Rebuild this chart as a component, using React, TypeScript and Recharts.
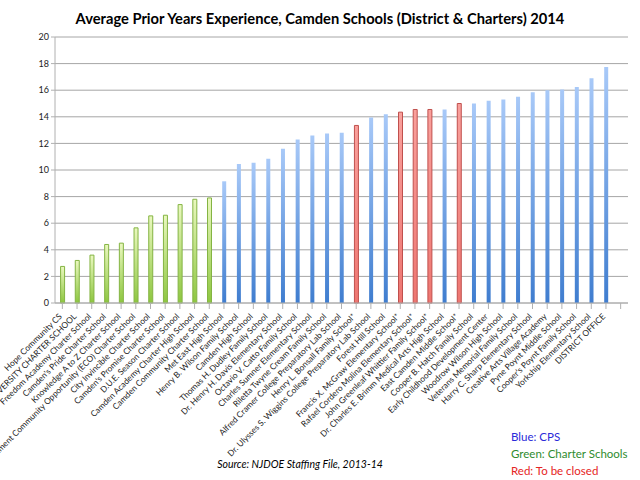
import { Bar, BarChart, CartesianGrid, Cell, XAxis, YAxis } from 'recharts'

const SCHOOLS = [
  'Hope Community CS',
  'UNIVERSITY CHARTER SCHOOL',
  'Freedom Academy Charter School',
  "Camden's Pride Charter School",
  'Knowledge A to Z Charter School',
  'Environment Community Opportunity (ECO) Charter School',
  'City Invincible Charter School',
  "Camden's Promise Charter School",
  'D.U.E. Season Charter School',
  'Camden Academy Charter High School',
  'Camden Community Charter School',
  'Met East High School',
  'Henry B. Wilson Family School',
  'Camden High School',
  'Thomas H. Dudley Family School',
  'Dr. Henry H. Davis Elementary School',
  'Octavio V. Catto Family School',
  'Charles Sumner Elementary School',
  'Riletta Twyne Cream Family School',
  'Alfred Cramer College Preparatory Lab School',
  'Henry L. Bonsall Family School*',
  'Dr. Ulysses S. Wiggins College Preparatory Lab School',
  'Forest Hill School',
  'Francis X. McGraw Elementary School*',
  'Rafael Cordero Molina Elementary School*',
  'John Greenleaf Whittier Family School*',
  'Dr. Charles E. Brimm Medical Arts High School',
  'East Camden Middle School*',
  'Cooper B. Hatch Family School',
  'Early Childhood Development Center',
  'Woodrow Wilson High School',
  'Veterans Memorial Family School',
  'Harry C. Sharp Elementary School',
  'Creative Arts Village Academy',
  'Pyne Poynt Middle School',
  "Cooper's Poynt Family School",
  'Yorkship Elementary School',
  'DISTRICT OFFICE',
  '',
]

const YEARS = [
  2.75, 3.2, 3.6, 4.4, 4.5, 5.65, 6.55, 6.6, 7.4, 7.8, 7.9,
  9.15, 10.45, 10.55, 10.85, 11.6, 12.3, 12.6, 12.75, 12.8,
  13.35, 13.95, 14.2, 14.35, 14.55, 14.55, 14.55, 15.0, 15.0,
  15.2, 15.3, 15.5, 15.85, 16.0, 16.05, 16.25, 16.9, 17.75, null,
]

// c = charter, d = district (CPS), x = to be closed
const GROUPS = ('ccccccccccc' + 'ddddddddd' + 'x' + 'dd' + 'xxx' + 'd' + 'x' + 'ddddddddddd').split('')

const Y_TICKS = [0, 2, 4, 6, 8, 10, 12, 14, 16, 18, 20]

const FILL: Record<string, string> = { c: 'url(#gGreen)', d: 'url(#gBlue)', x: 'url(#gRed)' }
const EDGE: Record<string, string> = { c: '#84b443', d: 'none', x: '#c0504d' }

const data = SCHOOLS.map((name, i) => ({ name, years: YEARS[i], group: GROUPS[i] }))

const FONT = 'Lato, "Open Sans", sans-serif'

function SchoolTick({ x, y, payload }: any) {
  return (
    <text
      x={x}
      y={y}
      dy={6}
      textAnchor="end"
      fontSize={8.4}
      fill="#222"
      fontFamily={FONT}
      transform={`rotate(-45, ${x}, ${y + 6})`}
    >
      {payload.value}
    </text>
  )
}

export default function App() {
  return (
    <div style={{ position: 'absolute', left: 0, top: 0, width: 640, height: 480, background: '#fff', fontFamily: FONT }}>
      <div
        style={{
          position: 'absolute', left: 0, top: 9, width: 640, textAlign: 'center',
          fontWeight: 'bold', fontSize: 14.7, color: '#000',
        }}
      >
        Average Prior Years Experience, Camden Schools (District &amp; Charters) 2014
      </div>
      <BarChart
        width={640}
        height={480}
        data={data}
        margin={{ top: 37, right: 12, left: 0, bottom: 0 }}
        barCategoryGap="38%"
      >
        <defs>
          <linearGradient id="gGreen" x1="0" y1="0" x2="0" y2="1">
            <stop offset="0%" stopColor="#eaf8bf" />
            <stop offset="100%" stopColor="#8dc63f" />
          </linearGradient>
          <linearGradient id="gBlue" x1="0" y1="0" x2="0" y2="1">
            <stop offset="0%" stopColor="#a8c9f8" />
            <stop offset="100%" stopColor="#3f7dcf" />
          </linearGradient>
          <linearGradient id="gRed" x1="0" y1="0" x2="0" y2="1">
            <stop offset="0%" stopColor="#f9a09c" />
            <stop offset="100%" stopColor="#ee7671" />
          </linearGradient>
        </defs>
        <CartesianGrid vertical={false} stroke="#a6a6a6" />
        <XAxis
          dataKey="name"
          interval={0}
          height={177}
          tick={<SchoolTick />}
          stroke="#b0b0b0"
          tickLine={{ stroke: '#b0b0b0' }}
        />
        <YAxis
          domain={[0, 20]}
          ticks={Y_TICKS}
          width={55}
          stroke="#b0b0b0"
          tickSize={4}
          tick={{ fontSize: 9, fill: '#222', fontFamily: FONT }}
        />
        <Bar dataKey="years" isAnimationActive={false}>
          {data.map((d, i) => (
            <Cell key={i} fill={FILL[d.group]} stroke={EDGE[d.group]} strokeWidth={1} />
          ))}
        </Bar>
      </BarChart>
      <div
        style={{
          position: 'absolute', left: 180, top: 458, width: 240, textAlign: 'center',
          fontStyle: 'italic', fontSize: 10.5, color: '#000',
        }}
      >
        Source: NJDOE Staffing File, 2013-14
      </div>
      <div style={{ position: 'absolute', left: 511, top: 428, fontSize: 11.5, lineHeight: '17px' }}>
        <div style={{ color: '#2b2bd9' }}>Blue: CPS</div>
        <div style={{ color: '#2e8b2e' }}>Green: Charter Schools</div>
        <div style={{ color: '#e52424' }}>Red: To be closed</div>
      </div>
    </div>
  )
}
